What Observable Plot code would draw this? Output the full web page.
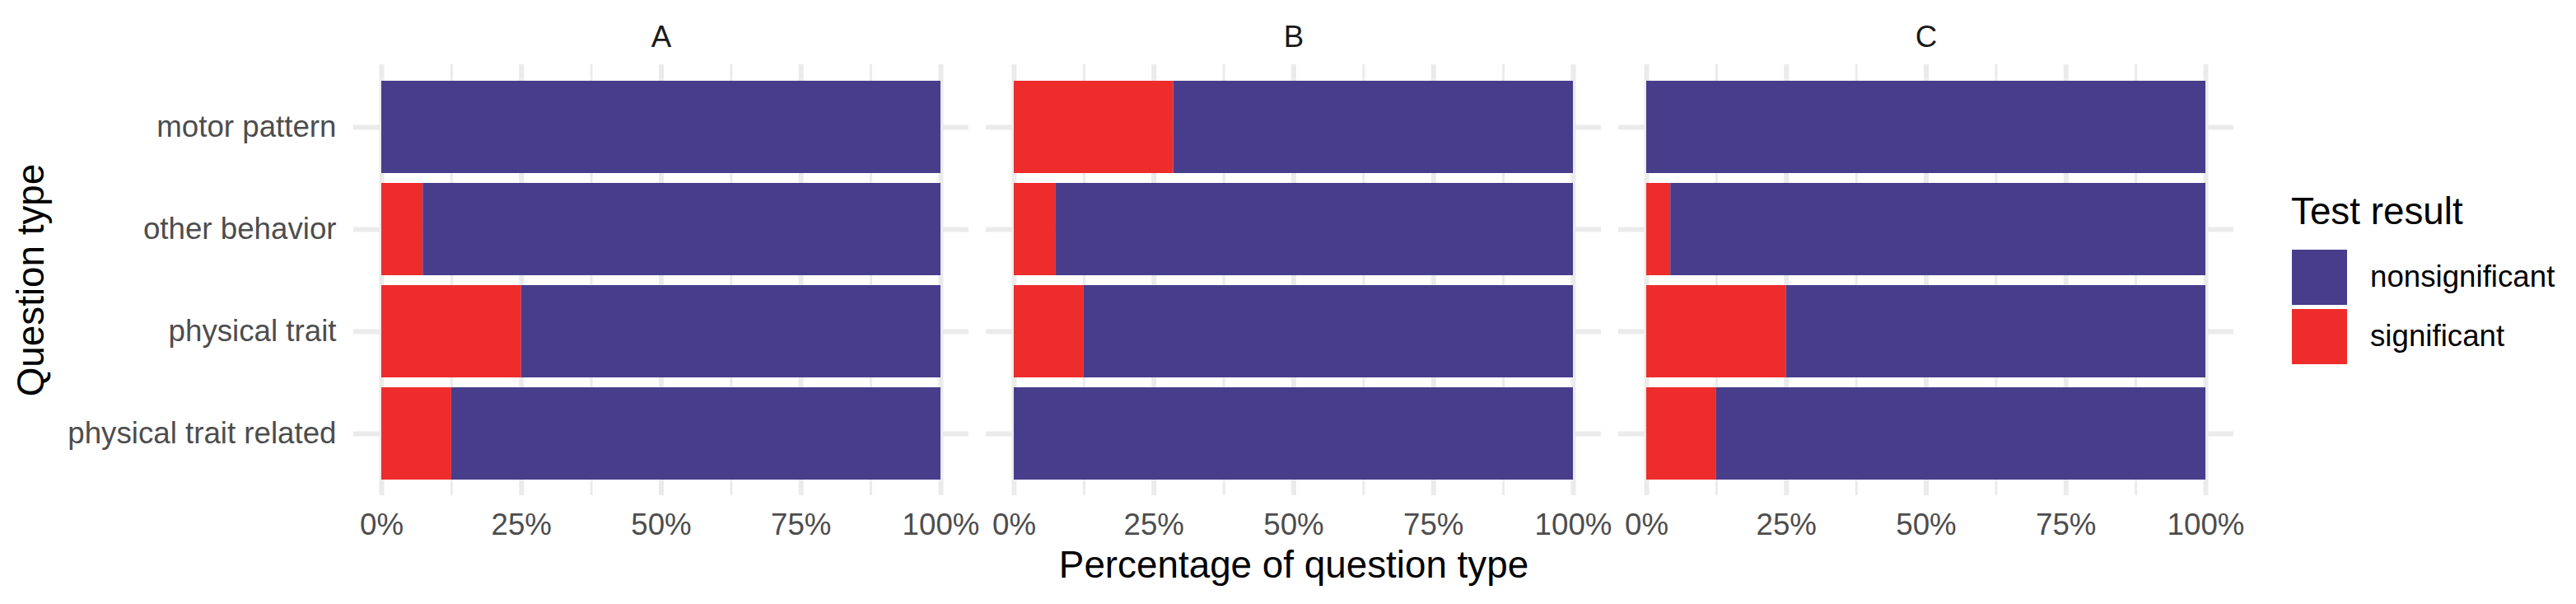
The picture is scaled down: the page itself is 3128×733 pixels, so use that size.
<!DOCTYPE html>
<html>
<head>
<meta charset="utf-8">
<script src="https://cdn.jsdelivr.net/npm/d3@7"></script>
<script src="https://cdn.jsdelivr.net/npm/@observablehq/plot@0.6"></script>
<style>
  html, body { margin: 0; padding: 0; background: #ffffff; }
  #wrap { position: relative; width: 3128px; height: 733px; font-family: "Liberation Sans", Arial, sans-serif; }
  .ovl { position: absolute; white-space: nowrap; line-height: 1; }
</style>
</head>
<body>
<div id="wrap"></div>
<script>
// ---- data ----
const panels = ["A", "B", "C"];
const questions = ["motor pattern", "other behavior", "physical trait", "physical trait related"];
const results = ["nonsignificant", "significant"];
// percentage of question type flagged significant / nonsignificant, per panel, in questions order
const significantA = [0, 7.4, 25, 12.5];
const nonsignificantA = [100, 92.6, 75, 87.5];
const significantB = [28.5, 7.4, 12.5, 0];
const nonsignificantB = [71.5, 92.6, 87.5, 100];
const significantC = [0, 4.3, 25, 12.5];
const nonsignificantC = [100, 95.7, 75, 87.5];
const xTicks = [0, 25, 50, 75, 100];
const xMinorTicks = [12.5, 37.5, 62.5, 87.5];
const xTickLabels = ["0%", "25%", "50%", "75%", "100%"];
const colors = ["#483D8B", "#EE2C2C"];
const xTitle = "Percentage of question type";
const yTitle = "Question type";
const legendTitle = "Test result";

// ---- table built from the arrays ----
const series = {
  A: {significant: significantA, nonsignificant: nonsignificantA},
  B: {significant: significantB, nonsignificant: nonsignificantB},
  C: {significant: significantC, nonsignificant: nonsignificantC}
};
const rows = [];
for (const p of panels) {
  questions.forEach((q, i) => {
    rows.push({panel: p, question: q, result: "significant", value: series[p].significant[i]});
    rows.push({panel: p, question: q, result: "nonsignificant", value: series[p].nonsignificant[i]});
  });
}

const grid = "#EBEBEB";
const chart = Plot.plot({
  width: 3128,
  height: 733,
  marginLeft: 429,
  marginRight: 415,
  marginTop: 78,
  marginBottom: 132,
  style: {fontFamily: "'Liberation Sans', Arial, sans-serif", fontSize: "36.7px", background: "#ffffff", overflow: "visible"},
  fx: {domain: panels, paddingInner: 0.0273, paddingOuter: 0, label: null},
  x: {domain: [0, 100], insetLeft: 34, insetRight: 34, label: null},
  y: {domain: questions, paddingInner: 0.1, paddingOuter: 0.15, label: null},
  color: {domain: results, range: colors},
  marks: [
    Plot.gridX(xMinorTicks, {stroke: grid, strokeOpacity: 1, strokeWidth: 3}),
    Plot.gridX(xTicks, {stroke: grid, strokeOpacity: 1, strokeWidth: 6}),
    Plot.gridY(questions, {stroke: grid, strokeOpacity: 1, strokeWidth: 6}),
    Plot.barX(rows, {x: "value", y: "question", fx: "panel", fill: "result"}),
    Plot.axisX(xTicks, {anchor: "bottom", facetAnchor: "bottom", tickSize: 0, tickPadding: 21,
      tickFormat: (d) => xTickLabels[xTicks.indexOf(d)], fill: "#4D4D4D", fontSize: 36.7, label: null}),
    Plot.axisY(questions, {anchor: "left", facetAnchor: "left", tickSize: 0, tickPadding: 21,
      fill: "#4D4D4D", fontSize: 36.7, label: null}),
    Plot.axisFx({anchor: "top", tickSize: 0, tickPadding: 22, fill: "#1A1A1A", fontSize: 36.7, label: null})
  ]
});

const wrap = document.getElementById("wrap");
wrap.appendChild(chart);

// axis titles
const xt = document.createElement("div");
xt.className = "ovl";
xt.textContent = xTitle;
xt.style.cssText += "left:1571px; top:686px; transform:translate(-50%,-50%); font-size:45.8px; color:#000;";
wrap.appendChild(xt);

const yt = document.createElement("div");
yt.className = "ovl";
yt.textContent = yTitle;
yt.style.cssText += "left:38px; top:340px; transform:translate(-50%,-50%) rotate(-90deg); font-size:45.8px; color:#000;";
wrap.appendChild(yt);

// legend from the plot's color scale
const cs = chart.scale("color");
const lg = document.createElement("div");
lg.className = "ovl";
lg.style.cssText += "left:2782px; top:234px;";
const lt = document.createElement("div");
lt.textContent = legendTitle;
lt.style.cssText = "font-size:45.8px; line-height:1; color:#000; height:69px;";
lg.appendChild(lt);
cs.domain.forEach((d, i) => {
  const item = document.createElement("div");
  item.style.cssText = "display:flex; align-items:center; height:67px; margin-bottom:5px;";
  const sw = document.createElement("div");
  sw.style.cssText = `width:67px; height:67px; background:${cs.range[i]}; margin-left:1px;`;
  const lab = document.createElement("span");
  lab.textContent = d;
  lab.style.cssText = "font-size:36.7px; line-height:1; color:#000; margin-left:28px;";
  item.appendChild(sw);
  item.appendChild(lab);
  lg.appendChild(item);
});
wrap.appendChild(lg);
</script>
</body>
</html>
